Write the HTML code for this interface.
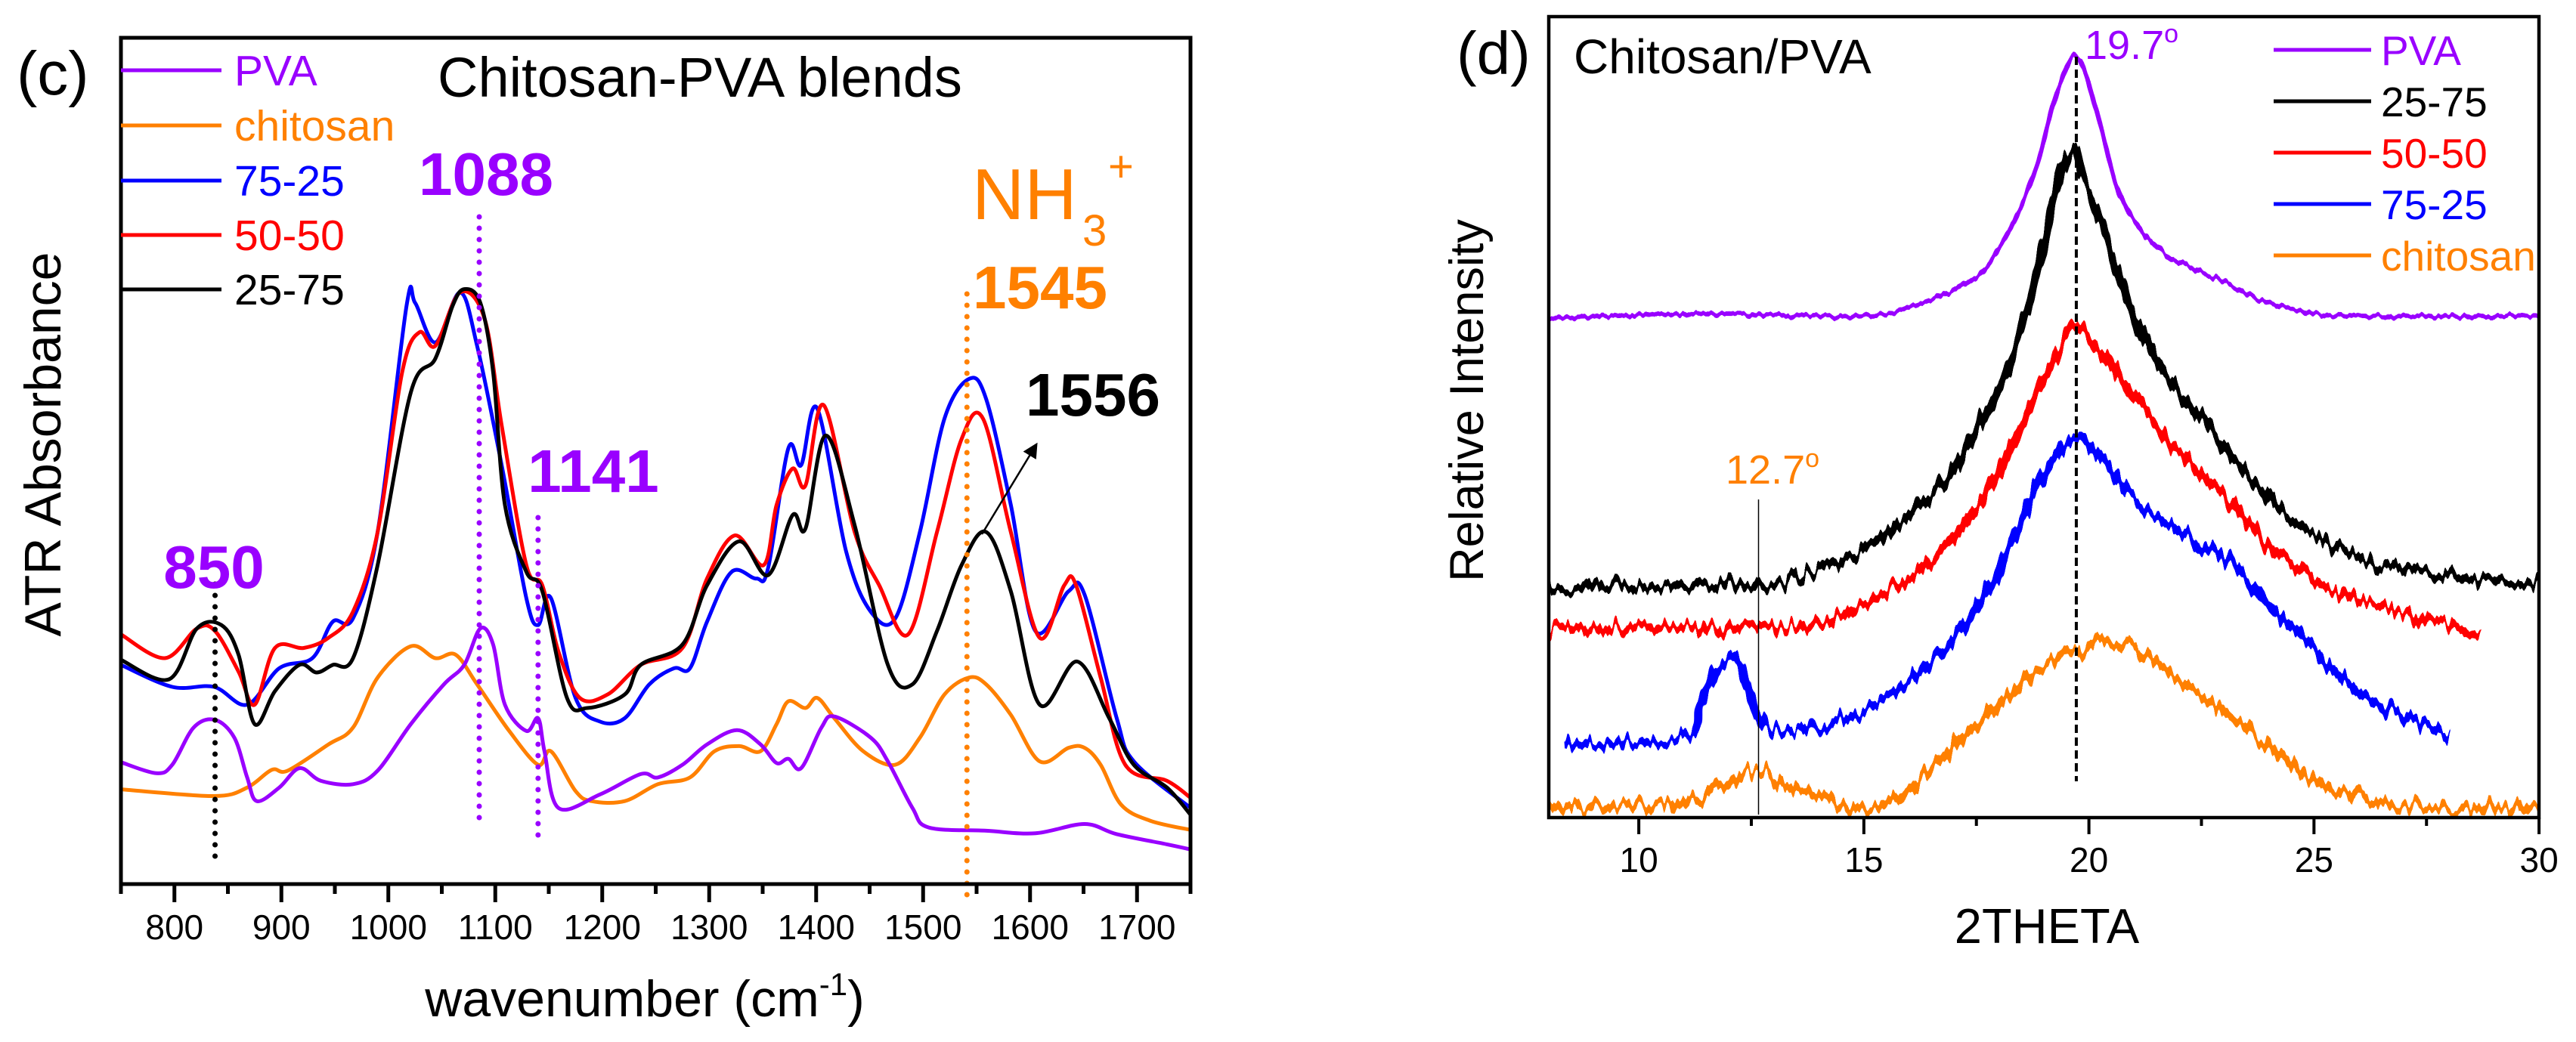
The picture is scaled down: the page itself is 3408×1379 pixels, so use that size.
<!DOCTYPE html>
<html><head><meta charset="utf-8"><style>
html,body{margin:0;padding:0;background:#fff;}
svg{display:block;font-family:"Liberation Sans",Arial,sans-serif;}
</style></head><body>
<svg id="fig" width="3408" height="1379" viewBox="0 0 3408 1379" xmlns="http://www.w3.org/2000/svg">
<defs>
<filter id="noisy" filterUnits="userSpaceOnUse" x="2000" y="0" width="1408" height="1200">
<feTurbulence type="fractalNoise" baseFrequency="0.12 0.01" numOctaves="2" seed="3" result="t"/>
<feColorMatrix in="t" type="matrix" values="0 0 0 0 0.5  0 1.6 0 0 -0.3  0 0 0 0 0  0 0 0 0 1" result="m"/>
<feDisplacementMap in="SourceGraphic" in2="m" scale="24" xChannelSelector="R" yChannelSelector="G"/>
</filter>
<filter id="noisyLight" filterUnits="userSpaceOnUse" x="2000" y="0" width="1408" height="1200">
<feTurbulence type="fractalNoise" baseFrequency="0.12 0.01" numOctaves="2" seed="5" result="t"/>
<feColorMatrix in="t" type="matrix" values="0 0 0 0 0.5  0 1.6 0 0 -0.3  0 0 0 0 0  0 0 0 0 1" result="m"/>
<feDisplacementMap in="SourceGraphic" in2="m" scale="7" xChannelSelector="R" yChannelSelector="G"/>
</filter>
<clipPath id="clipL"><rect x="160" y="50" width="1415" height="1120"/></clipPath>
<clipPath id="clipR"><rect x="2049" y="22" width="1310" height="1060"/></clipPath>
<marker id="arrowhead" markerWidth="8" markerHeight="8" refX="6" refY="4" orient="auto" markerUnits="strokeWidth"><path d="M0,0 L8,4 L0,8 z" fill="#000"/></marker>
</defs>
<g id="left"></g>
<g id="right"></g>
</svg>
<script>
// ---------- Left panel (FTIR) data ----------
const ftirPVA_w=[750,783,798,818,838,856,868,877,898,917,937,967,990,1021,1052,1071,1086,1098,1109,1129,1140,1146,1159,1198,1236,1252,1275,1298,1326,1348,1363,1374,1386,1405,1417,1451,1467,1490,1505,1559,1605,1651,1681,1728,1750];
const ftirPVA_v=[14.4,13.1,14.1,18.5,19.4,17.3,12.6,9.8,11.4,13.7,12.2,11.8,13.4,18.9,23.6,25.9,30.2,28.3,21.2,18.1,19.6,15.7,9.0,10.6,13.0,12.6,14.1,16.5,18.2,16.5,14.3,14.8,13.7,18.5,19.8,17.3,14.5,9.0,6.7,6.3,6.0,7.1,5.9,4.7,4.1];
const ftirChi_w=[750,837,868,891,906,944,967,990,1021,1044,1063,1083,1113,1140,1152,1175,1190,1221,1252,1282,1305,1328,1348,1363,1374,1390,1401,1417,1444,1474,1497,1520,1543,1559,1582,1609,1636,1651,1666,1685,1712,1750];
const ftirChi_v=[11.2,10.4,11.4,13.5,13.4,16.5,18.5,24.4,28.1,26.7,27.1,23.6,18.1,14.1,15.7,11.0,9.8,9.8,11.8,12.6,15.7,16.3,15.7,18.9,21.6,20.8,22.0,19.6,15.7,14.1,17.3,22.4,24.4,23.6,20.0,14.5,16.1,16.1,14.1,9.4,7.5,6.4];
const ftir7525_w=[750,798,837,868,898,929,948,967,990,1017,1025,1044,1067,1083,1106,1129,1140,1152,1175,1198,1221,1244,1267,1282,1298,1321,1344,1355,1374,1386,1401,1428,1451,1474,1497,1520,1543,1559,1582,1605,1636,1651,1681,1697,1750];
const ftir7525_v=[25.9,23.3,23.3,21.2,25.5,26.7,31.0,31.4,41.6,68.3,68.7,64.0,69.9,63.6,49.5,33.8,30.6,33.8,22.0,19.2,19.6,23.6,25.5,25.5,31.0,36.9,36.1,37.3,51.5,49.5,56.2,39.3,32.2,31.4,41.6,55.0,59.7,57.3,44.8,29.9,34.6,34.2,19.6,14.5,9.0];
const ftir5050_w=[750,791,821,838,860,875,894,921,944,967,990,1013,1029,1044,1067,1090,1106,1129,1144,1159,1179,1205,1236,1275,1298,1324,1351,1363,1378,1390,1407,1436,1459,1486,1513,1536,1556,1582,1609,1632,1643,1666,1689,1728,1750];
const ftir5050_v=[29.5,26.7,30.2,29.9,25.1,21.2,27.9,27.9,29.1,32.2,41.6,60.5,65.2,63.6,69.9,66.8,54.2,37.7,35.3,27.5,22.0,22.4,25.9,27.9,36.1,41.2,37.7,44.8,49.1,47.1,56.6,41.6,35.3,29.5,41.6,52.6,55.0,41.6,29.1,35.3,35.3,24.4,14.1,12.2,10.2];
const ftir2575_w=[750,795,821,844,860,875,894,917,933,948,967,990,1021,1044,1060,1071,1086,1098,1109,1129,1144,1167,1186,1221,1236,1275,1298,1328,1355,1378,1390,1409,1436,1467,1490,1513,1536,1559,1582,1609,1644,1674,1697,1728,1750];
const ftir2575_v=[26.5,24.2,30.2,30.6,27.1,18.9,22.8,25.9,25.0,25.9,26.7,37.7,58.1,62.1,68.3,70.3,68.7,60.5,44.8,36.9,34.6,22.0,20.8,22.4,25.9,28.3,35.3,40.5,36.5,43.6,42.0,53.0,42.4,25.9,23.6,29.9,37.7,41.6,34.6,21.2,26.3,19.6,14.1,11.4,8.2];
const ftirTicks=[800,900,1000,1100,1200,1300,1400,1500,1600,1700];
const ftirMinor=[750,850,950,1050,1150,1250,1350,1450,1550,1650,1750];

// ---------- Right panel (XRD) data ----------
const xrdPVA_t=[8.0,11.36,15.0,16.1,17.2,17.74,18.29,18.84,19.2,19.57,19.72,19.93,20.3,20.66,21.21,21.76,22.31,23.04,23.77,24.86,25.96,30.0];
const xrdPVA_v=[62.4,62.9,62.6,63.9,66.4,68.9,73.9,81.3,88.8,94.6,95.0,92.9,85.5,78.0,73.0,70.1,68.5,66.8,64.7,63.1,62.6,62.6];
const xrd2575_t=[8.0,11.36,12.82,13.91,15.01,15.92,16.83,17.56,18.11,18.66,19.02,19.39,19.66,19.84,20.21,20.66,21.03,21.58,22.12,22.85,23.58,24.5,25.41,26.32,27.78,30.0];
const xrd2575_v=[28.6,29.0,29.0,30.7,33.6,37.3,42.3,49.0,54.8,63.9,72.2,80.5,83.4,80.5,75.5,68.0,62.2,56.4,52.3,47.3,42.3,37.3,34.0,32.0,30.3,29.2];
const xrd5050_t=[8.0,11.36,13.19,14.1,15.01,15.92,16.83,17.74,18.29,18.84,19.39,19.72,20.03,20.48,21.03,21.58,22.31,23.22,24.13,25.23,26.32,27.78,28.69];
const xrd5050_v=[23.7,23.7,23.7,24.5,26.6,29.9,34.0,40.7,46.5,53.1,58.9,61.4,59.8,56.4,52.3,48.1,44.0,39.0,33.2,29.0,26.6,24.5,22.8];
const xrd7525_t=[8.35,10.99,11.36,11.72,12.09,12.36,12.73,13.18,14.64,15.74,16.83,17.74,18.47,19.02,19.48,19.75,20.3,20.85,21.58,22.31,23.22,24.13,25.04,25.96,27.05,28.0];
const xrd7525_v=[9.1,10.0,14.1,18.3,20.3,17.4,12.4,10.8,12.4,15.8,21.6,28.2,36.5,43.2,46.5,47.3,44.8,40.7,37.3,34.9,31.5,25.7,20.7,15.8,12.4,10.0];
const xrdChi_t=[8.0,10.99,11.72,12.64,13.55,15.01,16.1,17.2,18.11,19.02,19.75,20.3,21.03,21.58,22.31,23.22,24.13,25.23,26.32,27.78,30.0];
const xrdChi_v=[1.2,1.7,3.3,5.8,3.3,1.2,4.1,10.0,14.9,19.1,20.7,22.0,21.2,19.1,15.8,12.4,8.3,4.1,2.1,1.2,1.2];
const xrdTicks=[10,15,20,25,30];
const xrdMinor=[12.5,17.5,22.5,27.5];

const NS="http://www.w3.org/2000/svg";
function mk(tag,attrs,parent,text){const e=document.createElementNS(NS,tag);for(const k in attrs)e.setAttribute(k,attrs[k]);if(text!==undefined)e.textContent=text;parent.appendChild(e);return e;}

const xL=w=>160+(w-750)*1.415;
const yL=v=>1170-v*11.2;
const xR=t=>2049+(t-8)*59.55;
const yR=v=>1082-v*10.6;

function smoothPath(xs,ys,fx,fy){
  const p=xs.map((x,i)=>[fx(x),fy(ys[i])]);
  let d="M"+p[0][0].toFixed(1)+","+p[0][1].toFixed(1);
  for(let i=0;i<p.length-1;i++){
    const p0=p[i-1]||p[i],p1=p[i],p2=p[i+1],p3=p[i+2]||p2;
    const c1=[p1[0]+(p2[0]-p0[0])/6,p1[1]+(p2[1]-p0[1])/6];
    const c2=[p2[0]-(p3[0]-p1[0])/6,p2[1]-(p3[1]-p1[1])/6];
    d+=" C"+c1[0].toFixed(1)+","+c1[1].toFixed(1)+" "+c2[0].toFixed(1)+","+c2[1].toFixed(1)+" "+p2[0].toFixed(1)+","+p2[1].toFixed(1);
  }
  return d;
}

const PURPLE="#9900ff",ORANGE="#ff8000",BLUE="#0000ff",RED="#ff0000",BLACK="#000";

const L=document.getElementById('left');
const gL=mk('g',{'clip-path':'url(#clipL)'},L);
const leftSeries=[
 [ftirChi_w,ftirChi_v,ORANGE,'curve-chitosan'],
 [ftirPVA_w,ftirPVA_v,PURPLE,'curve-pva'],
 [ftir7525_w,ftir7525_v,BLUE,'curve-75-25'],
 [ftir5050_w,ftir5050_v,RED,'curve-50-50'],
 [ftir2575_w,ftir2575_v,BLACK,'curve-25-75']];
for(const s of leftSeries){
  const e=mk('path',{d:smoothPath(s[0],s[1],xL,yL),fill:'none',stroke:s[2],'stroke-width':5,'stroke-linejoin':'round'},gL);
  
  
}
function dotted(x,y1,y2,col,name){const e=mk('line',{x1:x,y1:y1,x2:x,y2:y2,stroke:col,'stroke-width':7,'stroke-dasharray':'0 15','stroke-linecap':'round'},L);
 
 }
dotted(xL(838),773,1140,BLACK,'marker-850');
dotted(xL(1085),287,1092,PURPLE,'marker-1088');
dotted(xL(1140),685,1114,PURPLE,'marker-1141');
dotted(xL(1541),389,1190,ORANGE,'marker-1545');
{const e=mk('line',{x1:1299,y1:707,x2:1370,y2:590,stroke:'#000','stroke-width':2.5,'marker-end':'url(#arrowhead)'},L);
 
 }
{const e=mk('rect',{x:160,y:50,width:1415,height:1120,fill:'none',stroke:'#000','stroke-width':5},L);
 
 }
for(const t of ftirTicks){
  const tk=mk('line',{x1:xL(t),y1:1170,x2:xL(t),y2:1194,stroke:'#000','stroke-width':5},L);
  
  
  const lb=mk('text',{x:xL(t),y:1243,'font-size':46,'text-anchor':'middle'},L,String(t));
  
  
}
for(const t of ftirMinor){
  const tk=mk('line',{x1:xL(t),y1:1170,x2:xL(t),y2:1183,stroke:'#000','stroke-width':5},L);
  
  
}
const legL=[['PVA',PURPLE],['chitosan',ORANGE],['75-25',BLUE],['50-50',RED],['25-75',BLACK]];
const legLy=[93,166,239,311,383];
legL.forEach((it,i)=>{
  const g=mk('g',{},L);
  
  
  mk('line',{x1:160,y1:legLy[i],x2:293,y2:legLy[i],stroke:it[1],'stroke-width':5},g);
  mk('text',{x:310,y:legLy[i]+20,'font-size':57,fill:it[1]},g,it[0]);
});
</script>
<script>
(function(){
const L=document.getElementById('left');
function t(x,y,txt,opts,name){const e=document.createElementNS("http://www.w3.org/2000/svg",'text');e.setAttribute('x',x);e.setAttribute('y',y);for(const k in opts)e.setAttribute(k,opts[k]);e.textContent=txt;
 
 
 L.appendChild(e);return e;}
t(22,125,'(c)',{'font-size':82},'panel-label-c');
t(579,128,'Chitosan-PVA blends',{'font-size':74},'ftir-title');
t(643,258,'1088',{'font-size':80,'font-weight':'bold',fill:'#9900ff','text-anchor':'middle'},'label-1088');
t(785,651,'1141',{'font-size':80,'font-weight':'bold',fill:'#9900ff','text-anchor':'middle'},'label-1141');
t(283,778,'850',{'font-size':80,'font-weight':'bold',fill:'#9900ff','text-anchor':'middle'},'label-850');
t(1376,408,'1545',{'font-size':80,'font-weight':'bold',fill:'#ff8000','text-anchor':'middle'},'label-1545');
t(1446,550,'1556',{'font-size':80,'font-weight':'bold',fill:'#000','text-anchor':'middle'},'label-1556');
t(1286,290,'NH',{'font-size':96,fill:'#ff8000'},'label-nh3');
t(1432,325,'3',{'font-size':58,fill:'#ff8000'},'label-nh3-sub');
t(1466,240,'+',{'font-size':58,fill:'#ff8000'},'label-nh3-plus');
t(80,588,'ATR Absorbance',{'font-size':68,'text-anchor':'middle',transform:'rotate(-90 80 588)'},'ftir-y-axis-title');
const xl=t(853,1345,'',{'font-size':68,'text-anchor':'middle'},'ftir-x-axis-title');
xl.innerHTML='wavenumber (cm<tspan dy="-28" font-size="42">-1</tspan><tspan dy="28">)</tspan>';
})();
</script>
<script>
(function(){
const R=document.getElementById('right');
const gR=mk('g',{'clip-path':'url(#clipR)'},R);
const gP=mk('g',{filter:'url(#noisyLight)'},gR);
const gN=mk('g',{filter:'url(#noisy)'},gR);
const rightSeries=[
 [xrdPVA_t,xrdPVA_v,PURPLE,'xrd-curve-pva',0],
 [xrd2575_t,xrd2575_v,BLACK,'xrd-curve-25-75',1],
 [xrd5050_t,xrd5050_v,RED,'xrd-curve-50-50',1],
 [xrd7525_t,xrd7525_v,BLUE,'xrd-curve-75-25',1],
 [xrdChi_t,xrdChi_v,ORANGE,'xrd-curve-chitosan',1]];
for(const s of rightSeries){
  const parent=s[4]?gN:gP;
  const e=mk('path',{d:smoothPath(s[0],s[1],xR,yR),fill:'none',stroke:s[2],'stroke-width':s[4]?11:6,'stroke-linejoin':'round'},parent);
  
  
}
{const e=mk('line',{x1:xR(19.72),y1:75,x2:xR(19.72),y2:1034,stroke:'#000','stroke-width':4,'stroke-dasharray':'11 6'},R);
 
 }
{const e=mk('line',{x1:xR(12.66),y1:661,x2:xR(12.66),y2:1078,stroke:'#000','stroke-width':1.5},R);
 
 }
{const e=mk('rect',{x:2049,y:22,width:1310,height:1060,fill:'none',stroke:'#000','stroke-width':4.5},R);
 
 }
for(const t of xrdTicks){
  const tk=mk('line',{x1:xR(t),y1:1082,x2:xR(t),y2:1104,stroke:'#000','stroke-width':4},R);
  
  
  const lb=mk('text',{x:xR(t),y:1154,'font-size':46,'text-anchor':'middle'},R,String(t));
  
  
}
for(const t of xrdMinor){
  const tk=mk('line',{x1:xR(t),y1:1082,x2:xR(t),y2:1093,stroke:'#000','stroke-width':4},R);
  
  
}
const legR=[['PVA',PURPLE],['25-75',BLACK],['50-50',RED],['75-25',BLUE],['chitosan',ORANGE]];
const legRy=[66,134,202,270,338];
legR.forEach((it,i)=>{
  const g=mk('g',{},R);
  
  
  mk('line',{x1:3008,y1:legRy[i],x2:3137,y2:legRy[i],stroke:it[1],'stroke-width':5},g);
  mk('text',{x:3150,y:legRy[i]+20,'font-size':55,fill:it[1]},g,it[0]);
});
function t(x,y,txt,opts,name){const e=mk('text',Object.assign({x:x,y:y},opts),R,txt);
 
 
 return e;}
t(1927,98,'(d)',{'font-size':80},'panel-label-d');
t(2082,97,'Chitosan/PVA',{'font-size':64},'xrd-title');
const a=t(2758,78,'',{'font-size':54,fill:'#9900ff'},'label-19-7');
a.innerHTML='19.7<tspan dy="-22" font-size="34">o</tspan>';
const b=t(2283,640,'',{'font-size':54,fill:'#ff8000'},'label-12-7');
b.innerHTML='12.7<tspan dy="-22" font-size="34">o</tspan>';
t(1962,530,'Relative Intensity',{'font-size':63,'text-anchor':'middle',transform:'rotate(-90 1962 530)'},'xrd-y-axis-title');
t(2708,1248,'2THETA',{'font-size':65,'text-anchor':'middle'},'xrd-x-axis-title');
})();
</script>
</body></html>
